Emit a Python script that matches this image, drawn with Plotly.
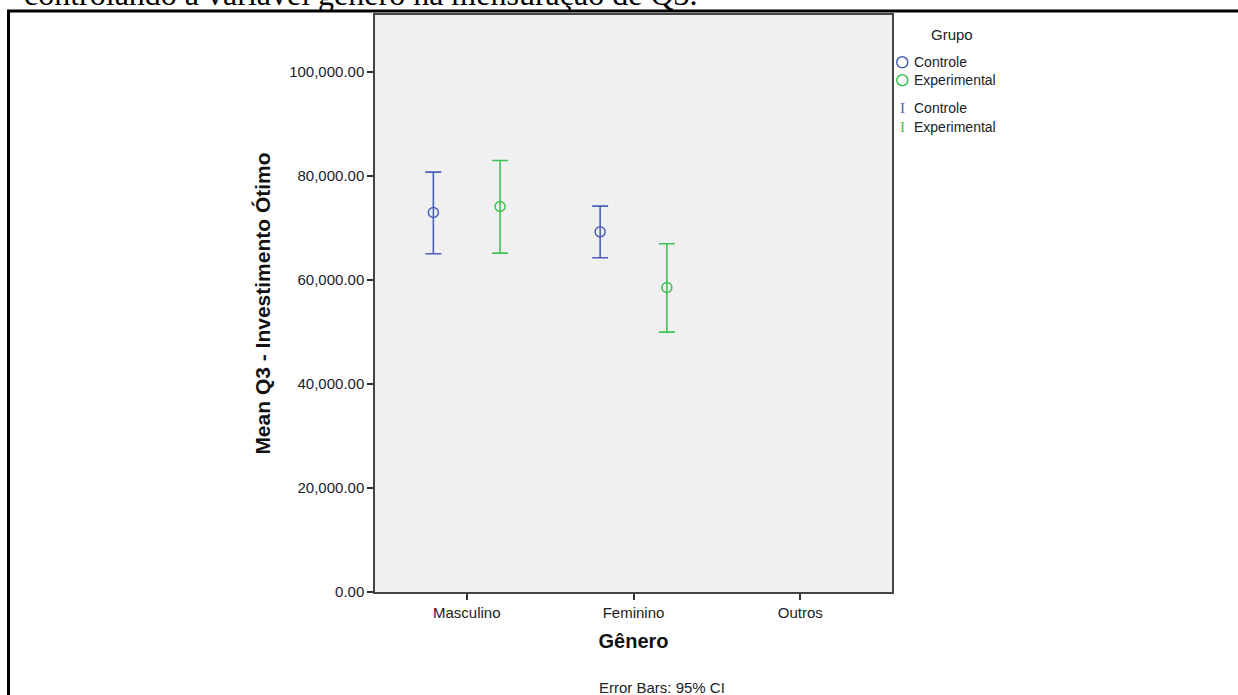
import plotly.graph_objects as go

# ---- data ----
categories = ["Masculino", "Feminino", "Outros"]
groups = ["Controle", "Experimental"]
controle_mean = [73000, 69290, None]
controle_lower = [65060, 64290, None]
controle_upper = [80770, 74230, None]
experimental_mean = [74150, 58580, None]
experimental_lower = [65190, 50000, None]
experimental_upper = [83000, 66980, None]
y_ticks = [0, 20000, 40000, 60000, 80000, 100000]

BLUE = "#4A60B6"
GREEN = "#3FC255"
FONT = "Liberation Sans, Arial, sans-serif"

# figure geometry in pixels
W, H = 1238, 695
PL, PR, PT, PB = 375, 892, 15, 592.3


def px_x(px):
    return (px - PL) / (PR - PL)


def px_y(py):
    return (PB - py) / (PB - PT)


def err(mean, lo, hi):
    plus = [None if m is None else h - m for m, h in zip(mean, hi)]
    minus = [None if m is None else m - l for m, l in zip(mean, lo)]
    return plus, minus


fig = go.Figure()
offsets = [-0.2, 0.2]
series = [
    (controle_mean, controle_lower, controle_upper, BLUE),
    (experimental_mean, experimental_lower, experimental_upper, GREEN),
]
for name, off, (mean, lo, hi, col) in zip(groups, offsets, series):
    plus, minus = err(mean, lo, hi)
    xs = [i + off for i in range(len(categories))]
    fig.add_trace(go.Scatter(
        x=xs, y=mean, mode="markers", name=name, showlegend=False,
        marker=dict(symbol="circle-open", size=10, color=col, line=dict(width=1.5, color=col)),
        error_y=dict(type="data", symmetric=False, array=plus, arrayminus=minus,
                     color=col, thickness=1.6, width=8),
    ))

fig.update_layout(
    width=W, height=H,
    margin=dict(l=PL, r=W - PR, t=PT, b=H - PB, pad=0),
    paper_bgcolor="white", plot_bgcolor="#F0F0F0",
    font=dict(family=FONT, size=15, color="#222"),
    showlegend=False,
)
fig.update_xaxes(
    range=[-0.55, 2.55], tickvals=list(range(len(categories))), ticktext=categories,
    ticks="outside", ticklen=6, tickwidth=1.5, tickcolor="#333",
    showline=True, mirror=True, linecolor="#444", linewidth=1.5,
    showgrid=False, zeroline=False,
    tickfont=dict(size=15, color="#222"),
    title=dict(text="<b>Gênero</b>", font=dict(size=20, color="#111"), standoff=14),
)
fig.update_yaxes(
    range=[0, 111000], tickvals=y_ticks, tickformat=",.2f",
    ticks="outside", ticklen=6, tickwidth=1.5, tickcolor="#333",
    showline=True, mirror=True, linecolor="#444", linewidth=1.5,
    showgrid=False, zeroline=False,
    tickfont=dict(size=15, color="#222"),
    title=dict(text="<b>Mean Q3 - Investimento Ótimo</b>", font=dict(size=21, color="#111"), standoff=13),
)

ann = []
# footnote
ann.append(dict(text="Error Bars: 95% CI", xref="paper", yref="paper",
                x=px_x(597), y=px_y(688), xanchor="left", yanchor="middle",
                showarrow=False, font=dict(size=15, color="#222")))
# document caption line (cut off at the top)
ann.append(dict(text="controlando a variável gênero na mensuração de Q3.", xref="paper", yref="paper",
                x=px_x(22), y=px_y(14), xanchor="left", yanchor="bottom",
                showarrow=False, font=dict(family="Liberation Serif, Times New Roman, serif", size=32, color="black")))
# legend (manual)
ann.append(dict(text="Grupo", xref="paper", yref="paper", x=px_x(952), y=px_y(35),
                xanchor="center", yanchor="middle", showarrow=False, font=dict(size=15, color="#222")))
legend_rows = [(62.3, "Controle", BLUE), (80.3, "Experimental", GREEN)]
shapes = []
for yy, txt, col in legend_rows:
    shapes.append(dict(type="circle", xref="paper", yref="paper",
                       xsizemode="pixel", ysizemode="pixel",
                       xanchor=px_x(902.3), yanchor=px_y(yy),
                       x0=-5.5, x1=5.5, y0=-5.5, y1=5.5,
                       line=dict(color=col, width=1.5)))
    ann.append(dict(text=txt, xref="paper", yref="paper", x=px_x(912), y=px_y(yy),
                    xanchor="left", yanchor="middle", showarrow=False, font=dict(size=14, color="#222")))
for yy, txt, col in [(108, "Controle", BLUE), (127, "Experimental", GREEN)]:
    ann.append(dict(text="I", xref="paper", yref="paper", x=px_x(902.3), y=px_y(yy),
                    xanchor="center", yanchor="middle", showarrow=False,
                    font=dict(family="Liberation Serif, serif", size=15, color=col)))
    ann.append(dict(text=txt, xref="paper", yref="paper", x=px_x(912), y=px_y(yy),
                    xanchor="left", yanchor="middle", showarrow=False, font=dict(size=14, color="#222")))

# document frame lines
fx = px_x(8.5)
fy = px_y(11)
shapes.append(dict(type="line", xref="paper", yref="paper", x0=fx, x1=fx, y0=px_y(720), y1=fy,
                   line=dict(color="black", width=3)))
shapes.append(dict(type="line", xref="paper", yref="paper", x0=px_x(7), x1=px_x(1260), y0=fy, y1=fy,
                   line=dict(color="black", width=3)))

fig.update_layout(annotations=ann, shapes=shapes)
fig.write_html("out.html")
